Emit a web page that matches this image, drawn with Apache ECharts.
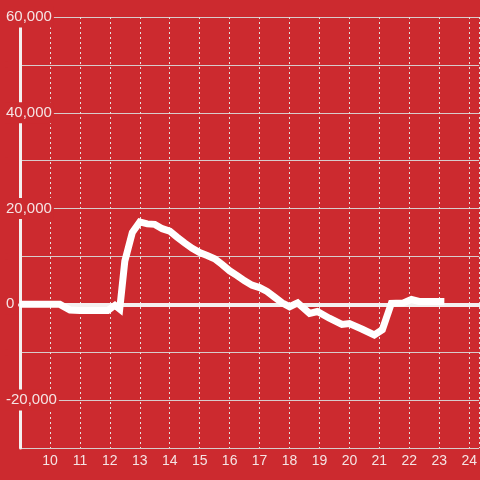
<!DOCTYPE html>
<html>
<head>
<meta charset="utf-8">
<script src="https://cdn.jsdelivr.net/npm/echarts@6/dist/echarts.min.js"></script>
<style>
  html, body { margin: 0; padding: 0; background: #cc2a2f; }
  #chart { width: 480px; height: 480px; }
</style>
</head>
<body>
<div id="chart"></div>
<script>
// hour of day (decimal) and net value
const hours = [9.0, 10.33, 10.67, 11.0, 11.5, 11.93, 12.17, 12.33, 12.5, 12.75,
  13.0, 13.25, 13.5, 13.75, 14.0, 14.25, 14.5, 14.75, 15.0, 15.25,
  15.5, 15.75, 16.0, 16.25, 16.5, 16.75, 17.0, 17.25, 17.5, 17.75,
  18.0, 18.27, 18.67, 18.93, 19.33, 19.75, 20.0, 20.43, 20.83, 21.1,
  21.4, 21.8, 22.07, 22.33, 23.17];
const values = [0, 0, -1200, -1300, -1300, -1300, -200, -1000, 9000, 15000,
  17200, 16800, 16700, 15800, 15300, 14000, 12800, 11700, 10800, 10200,
  9500, 8300, 7000, 6000, 4900, 4000, 3500, 2700, 1500, 300,
  -500, 300, -1900, -1500, -2900, -4200, -4000, -5200, -6400, -5300,
  200, 300, 1000, 600, 600];

const bg = '#cc2a2f';
const textColor = '#f5e4e4';

const chart = echarts.init(document.getElementById('chart'));

chart.setOption({
  backgroundColor: bg,
  animation: false,
  grid: { left: 20, right: 0, top: 17, bottom: 32 },
  xAxis: [
    {
      type: 'value',
      min: 9,
      max: 24.333,
      interval: 1,
      axisLine: { show: false, onZero: false },
      axisTick: { show: false },
      axisLabel: {
        color: textColor,
        fontSize: 14,
        fontFamily: 'Liberation Sans',
        margin: 6,
        showMinLabel: false,
        showMaxLabel: false
      },
      splitLine: {
        show: true,
        lineStyle: { color: '#e6e0e0', width: 1, type: [2, 3] }
      }
    },
    {
      // white zero line
      type: 'value',
      min: 9,
      max: 24.333,
      position: 'bottom',
      axisLine: { show: true, onZero: true, lineStyle: { color: '#f4f0f0', width: 4 } },
      axisTick: { show: false },
      axisLabel: { show: false },
      splitLine: { show: false }
    }
  ],
  yAxis: {
    type: 'value',
    min: -30000,
    max: 60000,
    interval: 10000,
    axisLine: { show: true, lineStyle: { color: '#f4f0f0', width: 3 } },
    axisTick: { show: false },
    axisLabel: {
      color: textColor,
      fontSize: 15,
      fontFamily: 'Liberation Sans',
      align: 'left',
      margin: 15,
      backgroundColor: bg,
      padding: [3, 2, 3, 1],
      formatter: function (v) {
        return v % 20000 === 0 ? v.toLocaleString('en-US') : '';
      }
    },
    splitLine: { lineStyle: { color: '#d8cccc', width: 1 } }
  },
  series: [{
    type: 'line',
    data: hours.map((h, i) => [h, values[i]]),
    showSymbol: false,
    symbol: 'none',
    lineStyle: { color: '#ffffff', width: 7, join: 'miter', cap: 'butt' },
    z: 5
  }]
});
</script>
</body>
</html>
